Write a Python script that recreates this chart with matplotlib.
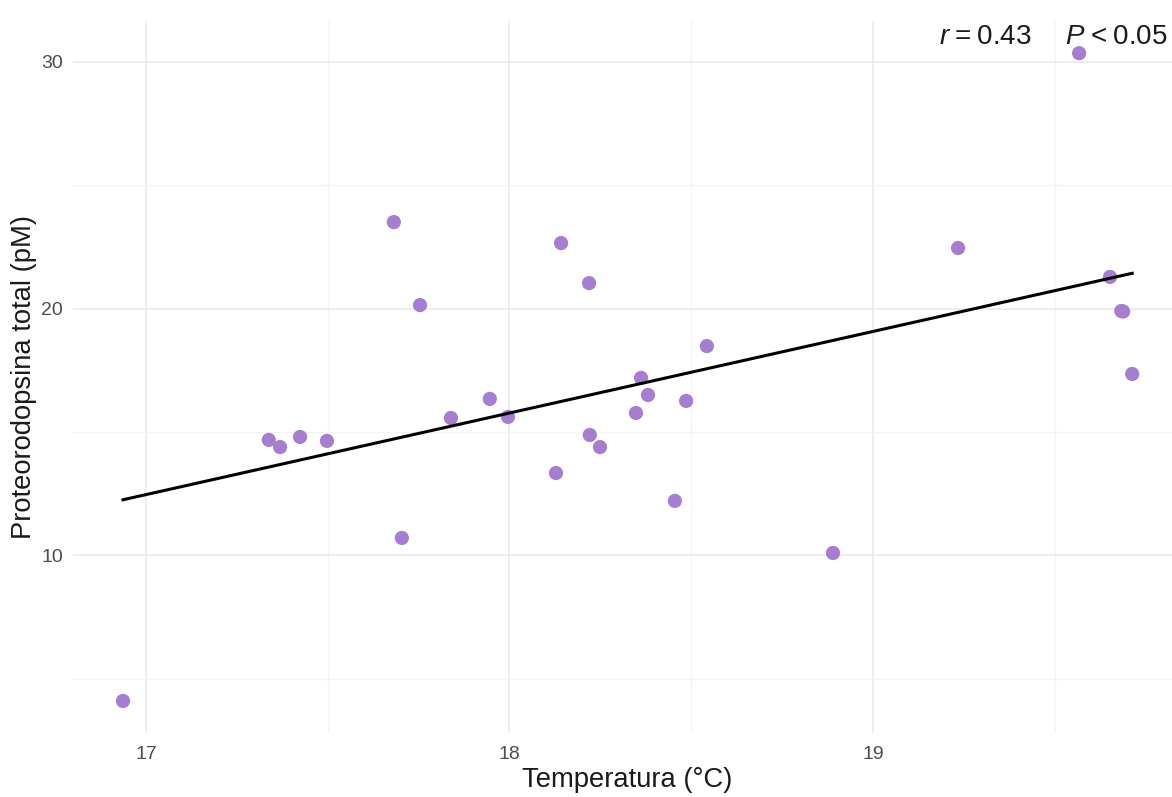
import matplotlib
matplotlib.use("Agg")
import matplotlib.pyplot as plt
import numpy as np

plt.rcParams['font.family'] = ['Liberation Sans', 'DejaVu Sans']
plt.rcParams['mathtext.fontset'] = 'custom'
plt.rcParams['mathtext.rm'] = 'Liberation Sans'
plt.rcParams['mathtext.it'] = 'Liberation Sans:italic'

# temperatura (°C) y proteorodopsina total (pM) por muestra
temperatura = [16.937, 17.338, 17.369, 17.424, 17.498, 17.682, 17.704, 17.754,
               17.839, 17.946, 17.996, 18.128, 18.142, 18.219, 18.221, 18.249,
               18.348, 18.362, 18.381, 18.455, 18.486, 18.543, 18.890, 19.234,
               19.567, 19.652, 19.683, 19.688, 19.713]
proteorodopsina = [4.11, 14.68, 14.39, 14.80, 14.64, 23.50, 10.71, 20.14,
                   15.57, 16.34, 15.61, 13.34, 22.65, 21.03, 14.88, 14.39,
                   15.77, 17.19, 16.50, 12.21, 16.26, 18.48, 10.10, 22.45,
                   30.34, 21.28, 19.90, 19.88, 17.35]
etiqueta_r = "0.43"
etiqueta_p = "0.05"

x = np.array(temperatura)
y = np.array(proteorodopsina)

fig = plt.figure(figsize=(11.72, 7.97), dpi=100)
ax = fig.add_axes([0.0619, 0.0799, 0.9472, 0.894])

ax.scatter(x, y, s=105, color='#A67ED1', edgecolors='none', zorder=3)

# recta de regresión lineal (lm)
pendiente, intercepto = np.polyfit(x, y, 1)
xs = np.linspace(x.min(), x.max(), 100)
ax.plot(xs, pendiente * xs + intercepto, color='black', lw=2.2, zorder=4)

rango_x = x.max() - x.min()
rango_y = y.max() - y.min()
ax.set_xlim(x.min() - 0.05 * rango_x, x.max() + 0.05 * rango_x)
ax.set_ylim(y.min() - 0.05 * rango_y, y.max() + 0.05 * rango_y)

ax.set_xticks([17, 18, 19])
ax.set_xticks([17.5, 18.5, 19.5], minor=True)
ax.set_yticks([10, 20, 30])
ax.set_yticks([5, 15, 25], minor=True)

ax.grid(which='major', color='#EBEBEB', lw=1.2)
ax.grid(which='minor', color='#F3F3F3', lw=0.9)
ax.set_axisbelow(True)
for s in ax.spines.values():
    s.set_visible(False)
ax.tick_params(which='both', length=0, labelsize=14, labelcolor='#4D4D4D')
ax.tick_params(axis='y', pad=7)
ax.tick_params(axis='x', pad=9)

ax.set_xlabel('Temperatura (°C)', fontsize=19.7, color='#1A1A1A', labelpad=3)
ax.set_ylabel('Proteorodopsina total (pM)', fontsize=19.7, color='#1A1A1A', labelpad=3)

# r y P con letras en cursiva y espacio estrecho alrededor del signo
fig.text(1032 / 1172, 1 - 44 / 797, r'$r\!\hspace{0.23}=\!\hspace{0.23}$' + etiqueta_r,
         ha='right', va='baseline', fontsize=20, color='#1A1A1A')
fig.text(1065 / 1172, 1 - 44 / 797, r'$P\!\hspace{0.25}<\!\hspace{0.25}$' + etiqueta_p,
         ha='left', va='baseline', fontsize=20, color='#1A1A1A')

fig.savefig('out.png', dpi=100)
